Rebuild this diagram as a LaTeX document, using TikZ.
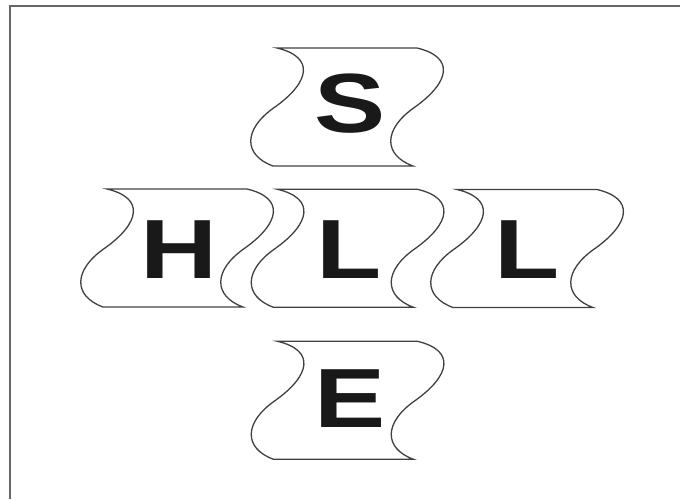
\documentclass[tikz,border=0pt]{standalone}
\usepackage{fontspec}
\newfontfamily\tilefont[FakeStretch=1.27]{Liberation Sans}

\begin{document}
\begin{tikzpicture}[
  x=0.5pt,y=-0.5pt,
  ltr/.style={font={\tilefont\bfseries\fontsize{42}{42}\selectfont},
              inner sep=0pt,text=black!90},
  tileline/.style={draw=black!75,line width=0.65pt},
  frameline/.style={draw=black!60,line width=1pt},
  tile/.pic={
    \draw[tileline] (-68,-59) -- (72,-59)
      .. controls (110,-50) and (105,-25) .. (70,0)
      .. controls (38,22) and (38,48) .. (68,59)
      -- (-72,59)
      .. controls (-102,48) and (-102,22) .. (-70,0)
      .. controls (-35,-25) and (-30,-50) .. cycle;
  }
]
\useasboundingbox (0,0) rectangle (680,499);
\draw[frameline] (10,499) -- (10,6) -- (680,6);
% tiles
\pic at (345,107) {tile};
\pic at (175,248) {tile};
\pic at (345.5,248.3) {tile};
\pic at (525,248.5) {tile};
\pic at (345.5,400.3) {tile};
% letters
\node[ltr] (s)  at (350,104)   {S};
\node[ltr] (h)  at (179,249.5) {H};
\node[ltr] (l1) at (349,249.5) {L};
\node[ltr] (l2) at (527,249.5) {L};
\node[ltr] (e)  at (350,398.5) {E};
\end{tikzpicture}
\end{document}
